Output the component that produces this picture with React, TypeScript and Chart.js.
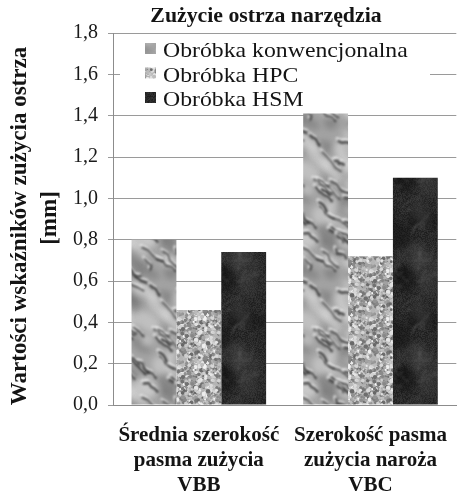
import React, { useEffect, useRef } from 'react';
import { Chart, registerables } from 'chart.js';

Chart.register(...registerables);

// ---------- data ----------
const chartTitle = 'Zużycie ostrza narzędzia';
const yTitleLines = ['Wartości wskaźników zużycia ostrza', '[mm]'];
const categories = [
  ['Średnia szerokość', 'pasma zużycia', 'VBB'],
  ['Szerokość pasma', 'zużycia naroża', 'VBC'],
];
const seriesNames = ['Obróbka konwencjonalna', 'Obróbka HPC', 'Obróbka HSM'];
const conventional = [0.8, 1.41];
const hpc = [0.46, 0.72];
const hsm = [0.74, 1.1];
const yMin = 0;
const yMax = 1.8;
const yStep = 0.2;

const SERIF = '"Liberation Serif", "Times New Roman", Times, serif';

// ---------- textures (deterministic, style only) ----------
function rng(seed: number) {
  let s = seed >>> 0;
  return () => {
    s = (s + 0x6d2b79f5) >>> 0;
    let t = s;
    t = Math.imul(t ^ (t >>> 15), t | 1);
    t ^= t + Math.imul(t ^ (t >>> 7), t | 61);
    return ((t ^ (t >>> 14)) >>> 0) / 4294967296;
  };
}

function makeTile(w: number, h: number, draw: (g: CanvasRenderingContext2D, w: number, h: number) => void) {
  const c = document.createElement('canvas');
  c.width = w;
  c.height = h;
  const g = c.getContext('2d') as CanvasRenderingContext2D;
  draw(g, w, h);
  return c;
}

function wrapped(g: CanvasRenderingContext2D, w: number, h: number, fn: () => void) {
  for (const dx of [-w, 0, w]) {
    for (const dy of [-h, 0, h]) {
      g.save();
      g.translate(dx, dy);
      fn();
      g.restore();
    }
  }
}

function paperTile() {
  return makeTile(80, 150, (g, w, h) => {
    const r = rng(11);
    g.fillStyle = '#a4a4a4';
    g.fillRect(0, 0, w, h);
    g.filter = 'blur(3px)';
    for (let i = 0; i < 55; i++) {
      const x = r() * w, y = r() * h, rx = 5 + r() * 12, ry = 3 + r() * 7;
      const col = r() < 0.6 ? 'rgba(220,220,220,0.5)' : 'rgba(95,95,95,0.4)';
      wrapped(g, w, h, () => {
        g.fillStyle = col;
        g.beginPath();
        g.ellipse(x, y, rx, ry, 0.6, 0, Math.PI * 2);
        g.fill();
      });
    }
    g.filter = 'blur(1.1px)';
    for (let i = 0; i < 40; i++) {
      const x = r() * w, y = r() * h, len = 8 + r() * 20, ang = 0.45 + r() * 0.5;
      const pts: [number, number][] = [];
      const n = 4;
      for (let k = 0; k <= n; k++) {
        const t = (k / n) * len;
        const wob = (r() - 0.5) * 4;
        pts.push([x + Math.cos(ang) * t - Math.sin(ang) * wob, y + Math.sin(ang) * t + Math.cos(ang) * wob]);
      }
      const wd = 1.5 + r() * 1.8;
      wrapped(g, w, h, () => {
        g.lineCap = 'round';
        g.lineJoin = 'round';
        g.strokeStyle = 'rgba(238,238,238,0.7)';
        g.lineWidth = wd + 0.8;
        g.beginPath();
        pts.forEach(([px, py], k) => (k ? g.lineTo(px - 1.5, py - 2.5) : g.moveTo(px - 1.5, py - 2.5)));
        g.stroke();
        g.strokeStyle = 'rgba(40,40,40,0.8)';
        g.lineWidth = wd;
        g.beginPath();
        pts.forEach(([px, py], k) => (k ? g.lineTo(px, py) : g.moveTo(px, py)));
        g.stroke();
      });
    }
    g.filter = 'none';
  });
}

function graniteTile() {
  return makeTile(48, 48, (g, w, h) => {
    const r = rng(7);
    g.fillStyle = '#b4b4b4';
    g.fillRect(0, 0, w, h);
    g.filter = 'blur(0.4px)';
    for (let i = 0; i < 650; i++) {
      const v = Math.floor(100 + r() * 150);
      const x = r() * w, y = r() * h, s = 0.7 + r() * 1.6;
      wrapped(g, w, h, () => {
        g.fillStyle = `rgb(${v},${v},${v})`;
        g.beginPath();
        g.arc(x, y, s, 0, Math.PI * 2);
        g.fill();
      });
    }
    g.filter = 'none';
  });
}

function marbleTile() {
  return makeTile(60, 100, (g, w, h) => {
    const r = rng(5);
    const img = g.createImageData(w, h);
    for (let i = 0; i < w * h; i++) {
      const v = Math.floor(42 + (r() - 0.5) * 24);
      img.data[i * 4] = v;
      img.data[i * 4 + 1] = v;
      img.data[i * 4 + 2] = v;
      img.data[i * 4 + 3] = 255;
    }
    g.putImageData(img, 0, 0);
    g.filter = 'blur(3px)';
    for (let i = 0; i < 14; i++) {
      const x = r() * w, y = r() * h, rad = 5 + r() * 10;
      const col = r() < 0.5 ? 'rgba(15,15,15,0.45)' : 'rgba(80,80,80,0.3)';
      wrapped(g, w, h, () => {
        g.fillStyle = col;
        g.beginPath();
        g.arc(x, y, rad, 0, Math.PI * 2);
        g.fill();
      });
    }
    g.filter = 'blur(0.9px)';
    for (let i = 0; i < 20; i++) {
      const x0 = r() * w, y0 = r() * h;
      const x1 = x0 + (r() - 0.5) * 30, y1 = y0 + (r() - 0.5) * 30;
      const x2 = x0 + (r() - 0.5) * 30, y2 = y0 + (r() - 0.5) * 30;
      const x3 = x0 + (r() - 0.5) * 36, y3 = y0 + (r() - 0.5) * 36;
      wrapped(g, w, h, () => {
        g.strokeStyle = 'rgba(110,110,110,0.35)';
        g.lineWidth = 1.2;
        g.beginPath();
        g.moveTo(x0, y0);
        g.bezierCurveTo(x1, y1, x2, y2, x3, y3);
        g.stroke();
      });
    }
    g.filter = 'none';
  });
}

// ---------- custom drawing plugin (title, axis title, legend) ----------
const decorPlugin = {
  id: 'decor',
  beforeDatasetsDraw(chart: any) {
    const { ctx, chartArea } = chart;
    ctx.save();
    ctx.fillStyle = '#ffffff';
    ctx.fillRect(chartArea.left + 7, 37, 430 - (chartArea.left + 7), 73);
    ctx.restore();
  },
  afterDraw(chart: any) {
    const { ctx } = chart;
    ctx.save();
    ctx.fillStyle = '#141414';
    // title (slightly widened like the source)
    ctx.font = `bold 20px ${SERIF}`;
    ctx.textAlign = 'center';
    ctx.textBaseline = 'alphabetic';
    ctx.save();
    ctx.translate(266, 22);
    ctx.scale(1.09, 1);
    ctx.fillText(chartTitle, 0, 0);
    ctx.restore();
    // y axis title
    ctx.font = `bold 23px ${SERIF}`;
    ctx.textBaseline = 'middle';
    const yPos = [
      [20, 226],
      [50, 218],
    ];
    yTitleLines.forEach((line, i) => {
      ctx.save();
      ctx.translate(yPos[i][0], yPos[i][1]);
      ctx.rotate(-Math.PI / 2);
      ctx.fillText(line, 0, 0);
      ctx.restore();
    });
    // legend
    ctx.font = `22px ${SERIF}`;
    ctx.textAlign = 'left';
    ctx.textBaseline = 'alphabetic';
    chart.data.datasets.forEach((ds: any, i: number) => {
      const base = 57 + i * 24.5;
      ctx.fillStyle = ds.backgroundColor;
      ctx.fillRect(145, base - 14, 11, 11);
      ctx.fillStyle = '#141414';
      ctx.save();
      ctx.translate(163, base);
      ctx.scale(1.08, 1);
      ctx.fillText(ds.label, 0, 0);
      ctx.restore();
    });
    ctx.restore();
  },
};

export default function App() {
  const ref = useRef<HTMLCanvasElement | null>(null);

  useEffect(() => {
    const canvas = ref.current;
    if (!canvas) return;
    let chart: Chart | null = null;
    let cancelled = false;

    const build = () => {
      if (cancelled) return;
      const ctx = canvas.getContext('2d') as CanvasRenderingContext2D;
      const pPaper = ctx.createPattern(paperTile(), 'repeat');
      const pGranite = ctx.createPattern(graniteTile(), 'repeat');
      const pMarble = ctx.createPattern(marbleTile(), 'repeat');
      const fills = [pPaper, pGranite, pMarble];
      const values = [conventional, hpc, hsm];

      chart = new Chart(canvas, {
        type: 'bar',
        data: {
          labels: categories as any,
          datasets: seriesNames.map((name, i) => ({
            label: name,
            data: values[i],
            backgroundColor: fills[i] as any,
            borderWidth: 0,
            categoryPercentage: 0.784,
            barPercentage: 1,
          })),
        },
        options: {
          responsive: false,
          maintainAspectRatio: false,
          animation: false,
          layout: { padding: { top: 33, left: 0, right: 0, bottom: 0 } },
          plugins: {
            legend: { display: false },
            title: { display: false },
            tooltip: { enabled: false },
          },
          scales: {
            x: {
              grid: { display: false, drawTicks: false },
              border: { display: true, color: '#8c8c8c', width: 1 },
              ticks: {
                color: '#141414',
                font: { family: SERIF, size: 21, weight: 'bold', lineHeight: 1.19 },
                padding: 18,
                maxRotation: 0,
                autoSkip: false,
              },
              afterFit: (s: any) => {
                s.height = 94;
              },
            },
            y: {
              min: yMin,
              max: yMax,
              ticks: {
                stepSize: yStep,
                color: '#1a1a1a',
                font: { family: SERIF, size: 20 },
                padding: 10,
                callback: (v: any) => Number(v).toFixed(1).replace('.', ','),
              },
              grid: { color: '#9a9a9a', lineWidth: 1, tickLength: 5 },
              border: { display: true, color: '#8c8c8c', width: 1 },
              afterFit: (s: any) => {
                s.width = 113;
              },
            },
          },
        },
        plugins: [decorPlugin],
      });
    };

    const fontsApi = (document as any).fonts;
    if (fontsApi && fontsApi.load) {
      Promise.all([
        fontsApi.load(`20px "Liberation Serif"`),
        fontsApi.load(`bold 20px "Liberation Serif"`),
      ])
        .catch(() => null)
        .then(() => build());
    } else {
      build();
    }

    return () => {
      cancelled = true;
      if (chart) chart.destroy();
    };
  }, []);

  return (
    <div style={{ position: 'absolute', left: 0, top: 0, width: 460, height: 499, overflow: 'hidden', background: '#fff' }}>
      <canvas ref={ref} width={465} height={499} style={{ display: 'block' }} />
    </div>
  );
}
